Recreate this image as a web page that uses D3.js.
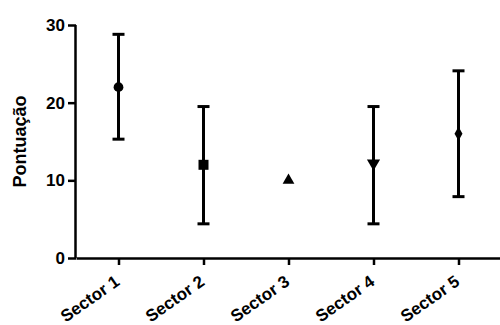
<!DOCTYPE html>
<html>
<head>
<meta charset="utf-8">
<script src="https://cdn.jsdelivr.net/npm/d3@7"></script>
<style>
  body { margin: 0; background: #fff; }
  text { font-family: "Liberation Sans", Arial, sans-serif; font-weight: bold; }
</style>
</head>
<body>
<div id="chart"></div>
<script>
// data
const sectors = ["Sector 1", "Sector 2", "Sector 3", "Sector 4", "Sector 5"];
const means = [22, 12, 10, 12.2, 16];
const upper = [28.8, 19.5, 10, 19.5, 24.1];
const lower = [15.3, 4.4, 10, 4.4, 7.9];
const yTicks = [0, 10, 20, 30];
const symbols = [d3.symbolCircle, d3.symbolSquare, d3.symbolTriangle, "down", d3.symbolDiamond];

const width = 500, height = 325;
const margin = { top: 25, right: 0, bottom: 67, left: 76 };

const svg = d3.select("#chart").append("svg")
  .attr("width", width)
  .attr("height", height);

const x = d3.scalePoint().domain(sectors)
  .range([margin.left, width + 1]).padding(0.5);
const y = d3.scaleLinear().domain([0, 30])
  .range([height - margin.bottom, margin.top]);

// y axis
const yAxis = svg.append("g")
  .attr("transform", `translate(${margin.left},0)`)
  .call(d3.axisLeft(y).tickValues(yTicks).tickSize(8).tickPadding(3));
yAxis.select(".domain").attr("stroke-width", 2.5).attr("d", `M-0.5,${y(30)}V${y(0)}`);
yAxis.selectAll(".tick line").attr("stroke-width", 2.5);
yAxis.selectAll(".tick text").style("font-size", "17px").attr("fill", "#000");

// x axis
const xAxis = svg.append("g")
  .attr("transform", `translate(0,${y(0)})`)
  .call(d3.axisBottom(x).tickSize(7).tickSizeOuter(0));
xAxis.select(".domain").attr("stroke-width", 2.5);
xAxis.selectAll(".tick line").attr("stroke-width", 2.5);
xAxis.selectAll(".tick text")
  .style("font-size", "17px")
  .attr("fill", "#000")
  .attr("text-anchor", "end")
  .attr("dy", "0")
  .attr("transform", "translate(-4,18) rotate(-35)");

// y label
svg.append("text")
  .attr("transform", `translate(26,${(y(0) + y(30)) / 2}) rotate(-90)`)
  .attr("text-anchor", "middle")
  .style("font-size", "18px")
  .text("Pontuação");

// error bars
const idx = d3.range(sectors.length);
const withErr = idx.filter(i => upper[i] !== lower[i]);
const g = svg.append("g");
g.selectAll(".err").data(withErr).enter().append("line")
  .attr("x1", i => x(sectors[i])).attr("x2", i => x(sectors[i]))
  .attr("y1", i => y(upper[i])).attr("y2", i => y(lower[i]))
  .attr("stroke", "#000").attr("stroke-width", 3);
g.selectAll(".capU").data(withErr).enter().append("line")
  .attr("x1", i => x(sectors[i]) - 6).attr("x2", i => x(sectors[i]) + 6)
  .attr("y1", i => y(upper[i])).attr("y2", i => y(upper[i]))
  .attr("stroke", "#000").attr("stroke-width", 3);
g.selectAll(".capL").data(withErr).enter().append("line")
  .attr("x1", i => x(sectors[i]) - 6).attr("x2", i => x(sectors[i]) + 6)
  .attr("y1", i => y(lower[i])).attr("y2", i => y(lower[i]))
  .attr("stroke", "#000").attr("stroke-width", 3);

// markers
g.selectAll(".pt").data(idx).enter().append("path")
  .attr("d", i => {
    const s = symbols[i] === "down" ? d3.symbolTriangle : symbols[i];
    const size = i === 4 ? 55 : (i === 2 ? 60 : (i === 1 ? 100 : 75));
    return d3.symbol().type(s).size(size)();
  })
  .attr("transform", i => `translate(${x(sectors[i])},${y(means[i])})` + (symbols[i] === "down" ? " rotate(180)" : ""))
  .attr("fill", "#000");
</script>
</body>
</html>
